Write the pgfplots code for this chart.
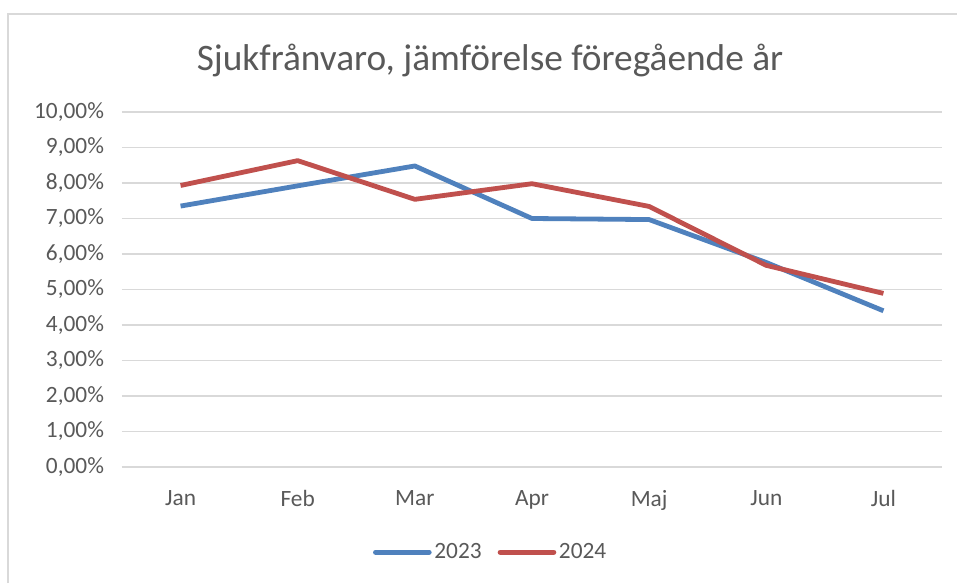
\documentclass[border=0pt]{standalone}
\usepackage{pgfplots}
\pgfplotsset{compat=1.18}
\usepackage{fontspec}
\setmainfont{Carlito}
\definecolor{sblue}{HTML}{4F81BD}
\definecolor{sred}{HTML}{C0504D}
\definecolor{tgray}{HTML}{595959}
\definecolor{ggray}{HTML}{D9D9D9}
\begin{document}
\begin{tikzpicture}
\path[use as bounding box, fill=white] (0,0) rectangle (717.75pt,437.25pt);
\draw[ggray, line width=1pt] (6pt,0) -- (6pt,426.75pt) -- (717.75pt,426.75pt);
\node[text=tgray, font=\fontsize{28}{32}\selectfont] at (367.5pt,392pt) {Sjukfrånvaro, jämförelse föregående år};
\begin{axis}[
  at={(91.5pt,87pt)}, anchor=south west,
  scale only axis, width=615pt, height=266.25pt,
  xmin=-0.5, xmax=6.5, ymin=0, ymax=10,
  xtick={0,...,6}, xticklabels={Jan,Feb,Mar,Apr,Maj,Jun,Jul},
  ytick={0,1,...,10},
  yticklabels={{0,00\%},{1,00\%},{2,00\%},{3,00\%},{4,00\%},{5,00\%},{6,00\%},{7,00\%},{8,00\%},{9,00\%},{10,00\%}},
  ymajorgrids, grid style={ggray, line width=0.9pt},
  axis x line*=bottom, axis y line*=left,
  x axis line style={draw=ggray, line width=0.9pt, -},
  y axis line style={draw=none},
  tick style={draw=none},
  ticklabel style={text=tgray, font=\fontsize{17.5}{20}\selectfont},
  xticklabel style={yshift=-14pt},
  yticklabel style={xshift=-10pt},
  legend style={at={(0.45,-0.2)}, anchor=north, draw=none, legend columns=2,
    font=\fontsize{17.5}{20}\selectfont, text=tgray,
    /tikz/every even column/.append style={column sep=10pt}},
  legend image code/.code={\draw[#1, line width=4pt, line cap=round] (0pt,0pt) -- (40pt,0pt);},
]
\addplot[sblue, line width=3.6pt, line join=round] coordinates {
(0,7.35) (1,7.92) (2,8.48) (3,7.00) (4,6.97) (5,5.76) (6,4.40)};
\addlegendentry{2023}
\addplot[sred, line width=3.6pt, line join=round] coordinates {
(0,7.93) (1,8.63) (2,7.54) (3,7.98) (4,7.34) (5,5.68) (6,4.89)};
\addlegendentry{2024}
\end{axis}
\end{tikzpicture}
\end{document}
